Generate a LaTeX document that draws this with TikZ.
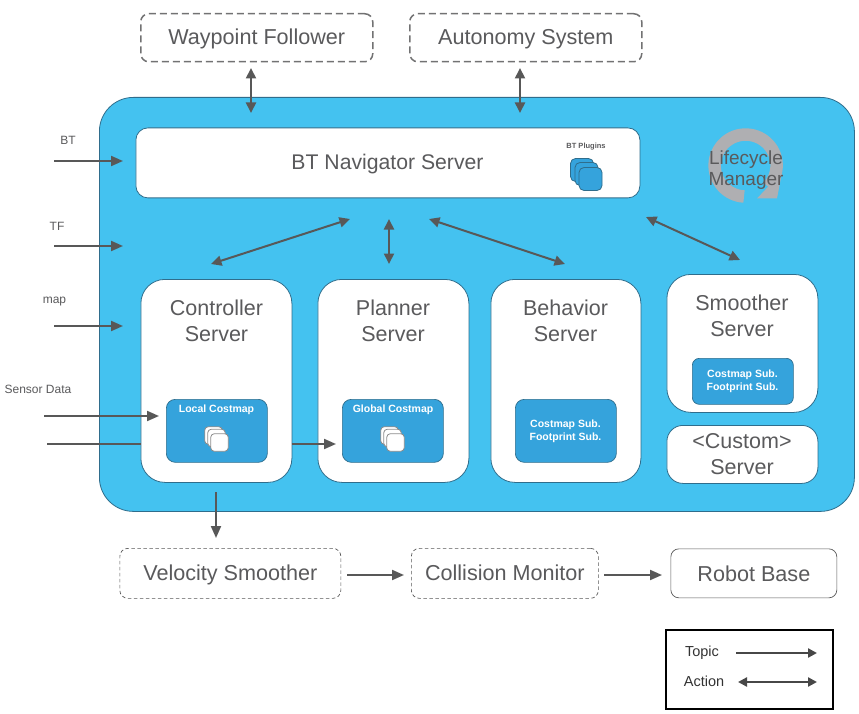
\documentclass[tikz,border=0pt]{standalone}
\usepackage{fontspec}
\setmainfont{Liberation Sans}
\usetikzlibrary{arrows.meta}
\definecolor{skyb}{HTML}{44C2F0}
\definecolor{edgeb}{HTML}{2F6D8C}
\definecolor{midb}{HTML}{35A3DC}
\definecolor{txt}{HTML}{5A5A5C}
\definecolor{arr}{HTML}{585858}
\definecolor{ringg}{HTML}{AFAFB2}
\tikzset{
  x=1pt,y=-1pt,
  wh/.style 2 args={minimum width=#1pt,minimum height=#2pt},
  panel/.style={draw=edgeb,line width=0.8pt,fill=white,rounded corners=#1,inner sep=0pt,anchor=north west,align=center},
  dashbox/.style={draw=#1,fill=white,rounded corners=8pt,inner sep=0pt,anchor=north west,align=center,text=txt,font=\fontsize{21.6}{26}\selectfont,text height=20pt,text depth=5pt},
  lab/.style={text=txt,font=\fontsize{21.5}{26}\selectfont,align=center},
  small/.style={text=txt,font=\fontsize{12}{14}\selectfont},
  whitelab/.style={text=white,font=\bfseries\fontsize{10.5}{13}\selectfont,align=center},
  topic/.style={draw=arr,line width=2pt,-{Triangle[length=12pt,width=10pt]}},
  action/.style={draw=arr,line width=2pt,{Triangle[length=10.5pt,width=10pt]}-{Triangle[length=10.5pt,width=10pt]}},
  costbox/.style={draw=edgeb,line width=0.7pt,fill=midb,rounded corners=9pt,inner sep=0pt,anchor=north west},
  card/.style={draw=#1,line width=0.8pt,rounded corners=3.5pt,minimum size=16pt,inner sep=0pt},
}
\begin{document}
\begin{tikzpicture}
\useasboundingbox (0,0) rectangle (859,714);
\fill[white] (0,0) rectangle (859,714);
% main panel
\node[draw=edgeb,line width=0.8pt,fill=skyb,rounded corners=34pt,anchor=north west,inner sep=0pt,wh={755}{414}] (main) at (99,97) {};
% lifecycle ring
\draw[line width=12.5pt,color=ringg] (744,196.5) arc[start angle=-93,delta angle=-310,radius=31pt];
\fill[color=ringg] (757,198.5) -- (777,198.5) -- (782,172) -- cycle;
\node[lab,font=\fontsize{19}{21.5}\selectfont] (lm) at (746,170) {Lifecycle\\Manager};
% top boxes
\node[dashbox=ringg!30!arr,line width=1.5pt,dash pattern=on 7pt off 4pt,wh={232}{48},text height=18pt] (wf) at (140,13) {Waypoint Follower};
\node[dashbox=ringg!30!arr,line width=1.5pt,dash pattern=on 7pt off 4pt,wh={232}{48},text height=18pt] (as) at (409,13) {Autonomy System};
% BT Navigator
\node[panel=12pt,wh={504}{70}] (bt) at (135.5,127.5) {};
\node[lab,font=\fontsize{21.2}{26}\selectfont,anchor=center] (btl) at (387.5,164.5) {BT Navigator Server};
\node[text=txt,font=\bfseries\fontsize{7.5}{9}\selectfont] (btp) at (586,147) {BT Plugins};
\foreach \n/\x/\y in {p1/582/170,p2/586.5/174,p3/590.5/179}
  \node[card=edgeb,fill=midb,minimum size=23pt,rounded corners=5pt] (\n) at (\x,\y) {};
% servers
\node[panel=24pt,wh={151}{203}] (ctrl) at (140.5,279) {};
\node[lab,anchor=center] (ctrll) at (216.5,320.5) {Controller\\Server};
\node[panel=24pt,wh={151}{203}] (plan) at (317.5,279) {};
\node[lab,anchor=center] (planl) at (393,320.5) {Planner\\Server};
\node[panel=24pt,wh={150}{203}] (beh) at (490.5,279) {};
\node[lab,anchor=center] (behl) at (565.5,320.5) {Behavior\\Server};
\node[panel=24pt,wh={151}{138}] (smo) at (666.5,274) {};
\node[lab,anchor=center] (smol) at (742,315.5) {Smoother\\Server};
\node[panel=16pt,wh={151}{58}] (cus) at (666.5,425) {};
\node[lab,anchor=center] (cusl) at (742,454.5) {<Custom>\\Server};
% inner boxes
\node[costbox,wh={101}{63}] (lc) at (166,399) {};
\node[whitelab] (lcl) at (216.5,410) {Local Costmap};
\node[costbox,wh={101}{63}] (gc) at (342,399) {};
\node[whitelab] (gcl) at (393,410) {Global Costmap};
\node[costbox,wh={101}{63},align=center] (bc) at (515,399) {};
\node[whitelab] (bcl) at (565.5,431) {Costmap Sub.\\Footprint Sub.};
\node[costbox,wh={101}{46},rounded corners=7pt] (sc) at (692,358) {};
\node[whitelab] (scl) at (742.5,381) {Costmap Sub.\\Footprint Sub.};
\foreach \n/\x/\y in {c1/213.5/435.5,c2/216.5/438,c3/219.5/442.5}
  \node[card=black!45,fill=white,minimum size=17.5pt] (\n) at (\x,\y) {};
\foreach \n/\x/\y in {d1/389.5/435.5,d2/392.5/438,d3/395.5/442.5}
  \node[card=black!45,fill=white,minimum size=17.5pt] (\n) at (\x,\y) {};
% bottom boxes
\node[dashbox=arr,line width=0.7pt,dash pattern=on 3.5pt off 2.5pt,wh={221}{50}] (vs) at (119.5,548) {Velocity Smoother};
\node[dashbox=arr,line width=0.7pt,dash pattern=on 3.5pt off 2.5pt,wh={187}{50}] (cm) at (411,548) {Collision Monitor};
\node[dashbox=arr,line width=0.7pt,wh={166}{49},text height=21pt] (rb) at (670.5,548.5) {Robot Base};
% input labels
\node[small] (bt0) at (68,140) {BT};
\node[small] (tf0) at (57,226) {TF};
\node[small] (mp0) at (54.5,302) {map};
\node[small] (sd0) at (38,389) {Sensor Data};
% free ends
\foreach \n/\x/\y in {
 a1/251/68, a2/251/113, b1/520/68, b2/520/113,
 i1/54/161, i2/123/161, i3/54/246, i4/123/246, i5/54/326, i6/123/326,
 s1/44/416, s2/159/416, s3/47/444, s4/140.5/444, s5/291.5/444, s6/336/444,
 e1/216/492, e2/216/538,
 n1/350/219, n2/211/264, n3/389/219, n4/389/264, n5/429/219, n6/565/264, n7/646/217, n8/740/260,
 v1/347/575, v2/404/575, w1/604/575, w2/662/575,
 t1/736/653, t2/817/653, u1/738/682, u2/817/682}
  \coordinate (\n) at (\x,\y);
\draw[action] (a1) -- (a2);
\draw[action] (b1) -- (b2);
\draw[topic] (i1) -- (i2);
\draw[topic] (i3) -- (i4);
\draw[topic] (i5) -- (i6);
\draw[topic] (s1) -- (s2);
\draw[draw=arr,line width=2pt] (s3) -- (s4);
\draw[topic] (s5) -- (s6);
\draw[topic] (e1) -- (e2);
\draw[action] (n1) -- (n2);
\draw[action] (n3) -- (n4);
\draw[action] (n5) -- (n6);
\draw[action] (n7) -- (n8);
\draw[topic] (v1) -- (v2);
\draw[topic] (w1) -- (w2);
% legend
\node[draw=black,line width=2pt,fill=white,anchor=north west,inner sep=0pt,wh={167.5}{79}] (leg) at (664.5,628.5) {};
\node[text=black!80,font=\fontsize{14.5}{16}\selectfont] (lt) at (702,652.5) {Topic};
\node[text=black!80,font=\fontsize{14.5}{16}\selectfont] (la) at (704,681.5) {Action};
\draw[topic,draw=black!72,line width=2.8pt,-{Triangle[length=9pt,width=9pt]}] (t1) -- (t2);
\draw[action,draw=black!72,line width=2.8pt,{Triangle[length=9pt,width=9pt]}-{Triangle[length=9pt,width=9pt]}] (u1) -- (u2);
\end{tikzpicture}
\end{document}
